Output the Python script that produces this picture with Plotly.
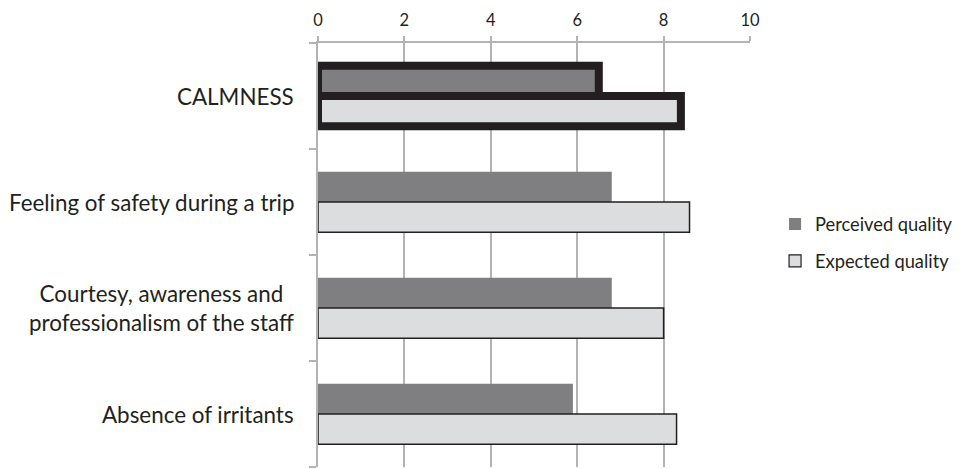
import plotly.graph_objects as go

categories = [
    "CALMNESS",
    "Feeling of safety during a trip",
    "Courtesy, awareness and<br>professionalism of the staff",
    "Absence of irritants",
]
perceived = [6.5, 6.8, 6.8, 5.9]
expected = [8.4, 8.6, 8.0, 8.3]
x_ticks = [0, 2, 4, 6, 8, 10]
highlight = "CALMNESS"

FONT = "Lato"
TEXT = "#231f20"
GRID = "#b3b3b3"
PERC_FILL = "#7f7f82"
EXP_FILL = "#dcdddf"

pos = list(range(len(categories)))
edge_w = [8 if c == highlight else 0 for c in categories]
edge_w_exp = [8 if c == highlight else 1.5 for c in categories]

fig = go.Figure()
fig.add_trace(go.Bar(
    name="Perceived quality", orientation="h", y=pos, x=perceived,
    offsetgroup="perceived",
    marker=dict(color=PERC_FILL, line=dict(color=TEXT, width=edge_w)),
    showlegend=False,
))
fig.add_trace(go.Bar(
    name="Expected quality", orientation="h", y=pos, x=expected,
    offsetgroup="expected",
    marker=dict(color=EXP_FILL, line=dict(color=TEXT, width=edge_w_exp)),
    showlegend=False,
))

# legend keys with the plain (non-highlighted) bar styling
fig.add_trace(go.Bar(
    name="Perceived quality", orientation="h", y=[None], x=[None],
    offsetgroup="perceived",
    marker=dict(color=PERC_FILL, line=dict(color=TEXT, width=0)),
    legend="legend",
))
fig.add_trace(go.Bar(
    name="Expected quality", orientation="h", y=[None], x=[None],
    offsetgroup="expected",
    marker=dict(color=EXP_FILL, line=dict(color=TEXT, width=1.2)),
    legend="legend2",
))

# category labels, centred line by line, right of the label box at the axis
for i, c in enumerate(categories):
    fig.add_annotation(
        x=0, xref="paper", xanchor="right", xshift=-22,
        y=i, yref="y", yanchor="middle",
        text=c, align="center", showarrow=False,
        font=dict(family=FONT, size=22.4, color=TEXT),
    )

legend_style = dict(
    xanchor="left", yanchor="middle", x=1.058,
    font=dict(family=FONT, size=18.3, color=TEXT),
    itemwidth=30, bgcolor="rgba(0,0,0,0)",
)

fig.update_layout(
    width=960, height=469,
    margin=dict(l=318, r=210, t=43, b=2),
    paper_bgcolor="white", plot_bgcolor="white",
    barmode="group", bargap=0.43, bargroupgap=0,
    font=dict(family=FONT, size=17, color=TEXT),
    legend=dict(y=0.573, **legend_style),
    legend2=dict(y=0.486, **legend_style),
    xaxis=dict(
        side="top", range=[0, 10], tickvals=x_ticks,
        showgrid=True, gridcolor=GRID, gridwidth=1.5,
        showline=True, linecolor=GRID, linewidth=1.5,
        ticks="outside", ticklen=5, tickcolor=GRID, tickwidth=1.5,
        ticklabelstandoff=4,
        tickfont=dict(family=FONT, size=16.5, color=TEXT),
        zeroline=False, fixedrange=True,
    ),
    yaxis=dict(
        range=[len(categories) - 0.5, -0.5],
        tickmode="array", tickvals=pos, ticktext=[""] * len(pos), ticks="",
        showgrid=False, zeroline=False,
        showline=True, linecolor=GRID, linewidth=1.5,
        minor=dict(
            tickmode="array",
            tickvals=[p - 0.5 for p in pos] + [len(pos) - 0.5],
            ticks="outside", ticklen=7, tickcolor=GRID, tickwidth=1.5,
            showgrid=False,
        ),
    ),
)

fig.write_html("out.html")
